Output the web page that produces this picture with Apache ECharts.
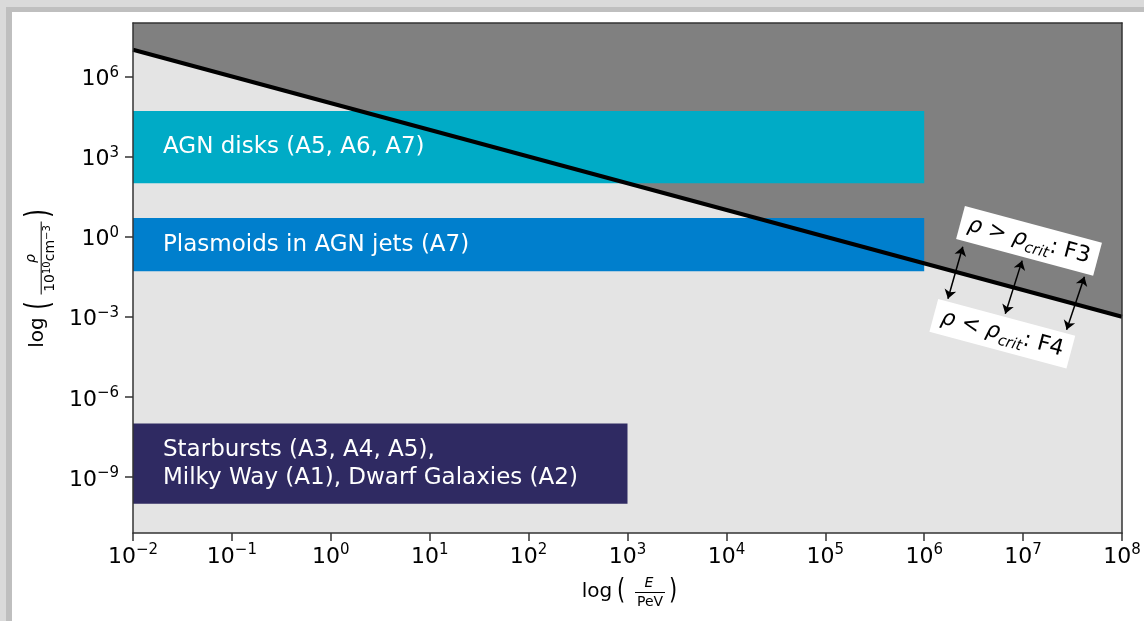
<!DOCTYPE html>
<html><head><meta charset="utf-8">
<script src="https://cdn.jsdelivr.net/npm/echarts@6/dist/echarts.min.js"></script>
<style>html,body{margin:0;padding:0;background:#fff}#c{width:1144px;height:621px}</style>
</head><body><div id="c"></div>
<script>
// ---- data (log10 values) ----
const xTicks = [-2, -1, 0, 1, 2, 3, 4, 5, 6, 7, 8];
const yTicks = [-9, -6, -3, 0, 3, 6];
const xRange = [-2, 8];
const yRange = [-11.1, 8];
const critLine = [[-2, 7], [8, -3]];           // rho_crit boundary (log E, log rho)
const regionNames = ['AGN disks (A5, A6, A7)', 'Plasmoids in AGN jets (A7)', 'Starbursts (A3, A4, A5),\nMilky Way (A1), Dwarf Galaxies (A2)'];
const regionLogE = [[-2, 6], [-2, 6], [-2, 3]];
const regionLogRho = [[2, 4.7], [-1.3, 0.7], [-10, -7]];
const arrowTop = [[6.39, -0.38], [6.99, -0.9], [7.62, -1.5]];
const arrowBottom = [[6.24, -2.33], [6.82, -2.89], [7.44, -3.49]];
const noteRelation = ['>', '<'];
const noteCase = ['F3', 'F4'];
const notePos = [[7.06, -0.16], [6.79, -3.64]];

// ---- styles ----
const FONT = '"DejaVu Sans", sans-serif';
const regionColors = ['#00ABC6', '#007FCD', '#2F2A62'];
const pow10 = v => '10{s|' + (v < 0 ? '\u2212' + Math.abs(v) : String(v)) + '}';
const tickLabel = {
  fontFamily: FONT, fontSize: 22, color: '#000', lineHeight: 28,
  formatter: v => pow10(Math.round(v)),
  rich: { s: { fontFamily: FONT, fontSize: 15, lineHeight: 15, verticalAlign: 'top', color: '#000' } }
};
const lineCol = '#333';

const chart = echarts.init(document.getElementById('c'));
const baseGraphics = [
  // page frame
  { type: 'rect', shape: { x: 0, y: 0, width: 1144, height: 7 }, style: { fill: '#DADADA' }, z: -10 },
  { type: 'rect', shape: { x: 6, y: 7, width: 1138, height: 5 }, style: { fill: '#BFBFBF' }, z: -10 },
  { type: 'rect', shape: { x: 0, y: 0, width: 6, height: 621 }, style: { fill: '#DADADA' }, z: -10 },
  { type: 'rect', shape: { x: 6, y: 7, width: 6, height: 614 }, style: { fill: '#BFBFBF' }, z: -10 },
  // x axis name: log (E / PeV)
  { type: 'group', x: 628, y: 592, children: [
    { type: 'text', x: -31, y: 0, style: { text: 'log', fontFamily: FONT, fontSize: 20, fill: '#000', align: 'center', verticalAlign: 'middle' } },
    { type: 'text', x: -7, y: 0, scaleY: 1.35, style: { text: '(', fontFamily: FONT, fontSize: 21, fill: '#000', align: 'center', verticalAlign: 'middle' } },
    { type: 'text', x: 21, y: -9, style: { text: 'E', fontFamily: FONT, fontSize: 14, fontStyle: 'italic', fill: '#000', align: 'center', verticalAlign: 'middle' } },
    { type: 'line', shape: { x1: 7, y1: 0.5, x2: 37, y2: 0.5 }, style: { stroke: '#000', lineWidth: 1 } },
    { type: 'text', x: 22, y: 10, style: { text: 'PeV', fontFamily: FONT, fontSize: 14, fill: '#000', align: 'center', verticalAlign: 'middle' } },
    { type: 'text', x: 45, y: 0, scaleY: 1.35, style: { text: ')', fontFamily: FONT, fontSize: 21, fill: '#000', align: 'center', verticalAlign: 'middle' } }
  ] },
  // y axis name: log (rho / 10^10 cm^-3)
  { type: 'group', x: 40.7, y: 279.5, rotation: Math.PI / 2, children: [
    { type: 'text', x: -53, y: -3, style: { text: 'log', fontFamily: FONT, fontSize: 20, fill: '#000', align: 'center', verticalAlign: 'middle' } },
    { type: 'text', x: -26, y: 0, scaleY: 1.5, style: { text: '(', fontFamily: FONT, fontSize: 22, fill: '#000', align: 'center', verticalAlign: 'middle' } },
    { type: 'text', x: 21, y: -9, style: { text: '\u03c1', fontFamily: FONT, fontSize: 14, fontStyle: 'italic', fill: '#000', align: 'center', verticalAlign: 'middle' } },
    { type: 'line', shape: { x1: -15, y1: 0.5, x2: 58, y2: 0.5 }, style: { stroke: '#000', lineWidth: 1 } },
    { type: 'text', x: 21, y: 10, style: { text: '10{s|10}cm{s|\u22123}', fontFamily: FONT, fontSize: 14, fill: '#000', align: 'center', verticalAlign: 'middle', lineHeight: 16,
      rich: { s: { fontFamily: FONT, fontSize: 10, lineHeight: 10, verticalAlign: 'top', fill: '#000' } } } },
    { type: 'text', x: 66, y: 0, scaleY: 1.5, style: { text: ')', fontFamily: FONT, fontSize: 22, fill: '#000', align: 'center', verticalAlign: 'middle' } }
  ] }
];

const option = {
  animation: false,
  backgroundColor: '#fff',
  grid: { left: 133, right: 22, top: 23, bottom: 88, show: true, backgroundColor: '#E4E4E4', borderWidth: 0 },
  xAxis: [{
    type: 'value', min: xRange[0], max: xRange[1], interval: 1, z: 10,
    axisLine: { show: true, onZero: false, lineStyle: { color: lineCol, width: 1.5 } },
    axisTick: { show: true, length: 8, lineStyle: { color: lineCol, width: 1.5 } },
    axisLabel: Object.assign({ margin: 10 }, tickLabel),
    splitLine: { show: false }
  }, {
    type: 'value', position: 'top', min: xRange[0], max: xRange[1], z: 10,
    axisLine: { show: true, onZero: false, lineStyle: { color: lineCol, width: 1.5 } },
    axisTick: { show: false }, axisLabel: { show: false }, splitLine: { show: false }
  }],
  yAxis: [{
    type: 'value', min: yRange[0], max: yRange[1], z: 10,
    axisLine: { show: true, onZero: false, lineStyle: { color: lineCol, width: 1.5 } },
    axisTick: { show: true, length: 8, customValues: yTicks, lineStyle: { color: lineCol, width: 1.5 } },
    axisLabel: Object.assign({ margin: 14, customValues: yTicks, padding: [6, 0, 0, 0] }, tickLabel),
    splitLine: { show: false }
  }, {
    type: 'value', position: 'right', min: yRange[0], max: yRange[1], z: 10,
    axisLine: { show: true, onZero: false, lineStyle: { color: lineCol, width: 1.5 } },
    axisTick: { show: false }, axisLabel: { show: false }, splitLine: { show: false }
  }],
  series: [
    { // region above rho_crit
      type: 'line', data: critLine, symbol: 'none', z: 1, silent: true,
      lineStyle: { width: 0 }, areaStyle: { color: '#808080', opacity: 1, origin: 'end' }
    },
    {
      type: 'custom', z: 3, silent: true,
      encode: { x: [0, 1], y: [2, 3] },
      data: regionNames.map((n, i) => [regionLogE[i][0], regionLogE[i][1], regionLogRho[i][0], regionLogRho[i][1]]),
      renderItem: (params, api) => {
        const i = params.dataIndex;
        const p0 = api.coord([api.value(0), api.value(3)]);
        const p1 = api.coord([api.value(1), api.value(2)]);
        return { type: 'group', children: [
          { type: 'rect', shape: { x: p0[0], y: p0[1], width: p1[0] - p0[0], height: p1[1] - p0[1] }, style: { fill: regionColors[i] } },
          { type: 'text', x: p0[0] + 30, y: (p0[1] + p1[1]) / 2,
            style: { text: regionNames[i], fill: '#fff', fontSize: 23, fontFamily: FONT, align: 'left', verticalAlign: 'middle', lineHeight: 28 } }
        ] };
      }
    },
    { // rho_crit line
      type: 'line', data: critLine, symbol: 'none', z: 5, silent: true,
      lineStyle: { color: '#000', width: 4 }
    },
    {
      type: 'lines', coordinateSystem: 'cartesian2d', z: 6, silent: true,
      symbol: ['arrow', 'arrow'], symbolSize: 9,
      lineStyle: { color: '#000', width: 1.5, opacity: 1 },
      data: arrowTop.map((t, i) => ({ coords: [t, arrowBottom[i]] }))
    }
  ],
  graphic: baseGraphics
};
chart.setOption(option);

const noteGraphics = notePos.map((p, i) => {
  const px = chart.convertToPixel({ gridIndex: 0 }, p);
  return {
    type: 'text', x: px[0], y: px[1], rotation: -15 * Math.PI / 180, z: 100,
    style: {
      text: '{i|\u03c1} ' + noteRelation[i] + ' {i|\u03c1}{sub|crit}: ' + noteCase[i],
      fontFamily: FONT, fontSize: 22, fill: '#000', lineHeight: 30,
      align: 'center', verticalAlign: 'middle',
      backgroundColor: '#fff', padding: [2, 8, 2, 8],
      rich: {
        i: { fontFamily: FONT, fontSize: 22, fontStyle: 'italic', fill: '#000', lineHeight: 30 },
        sub: { fontFamily: FONT, fontSize: 15, fontStyle: 'italic', fill: '#000', lineHeight: 14, verticalAlign: 'bottom' }
      }
    }
  };
});
chart.setOption({ graphic: baseGraphics.concat(noteGraphics) });
</script>
</body></html>
